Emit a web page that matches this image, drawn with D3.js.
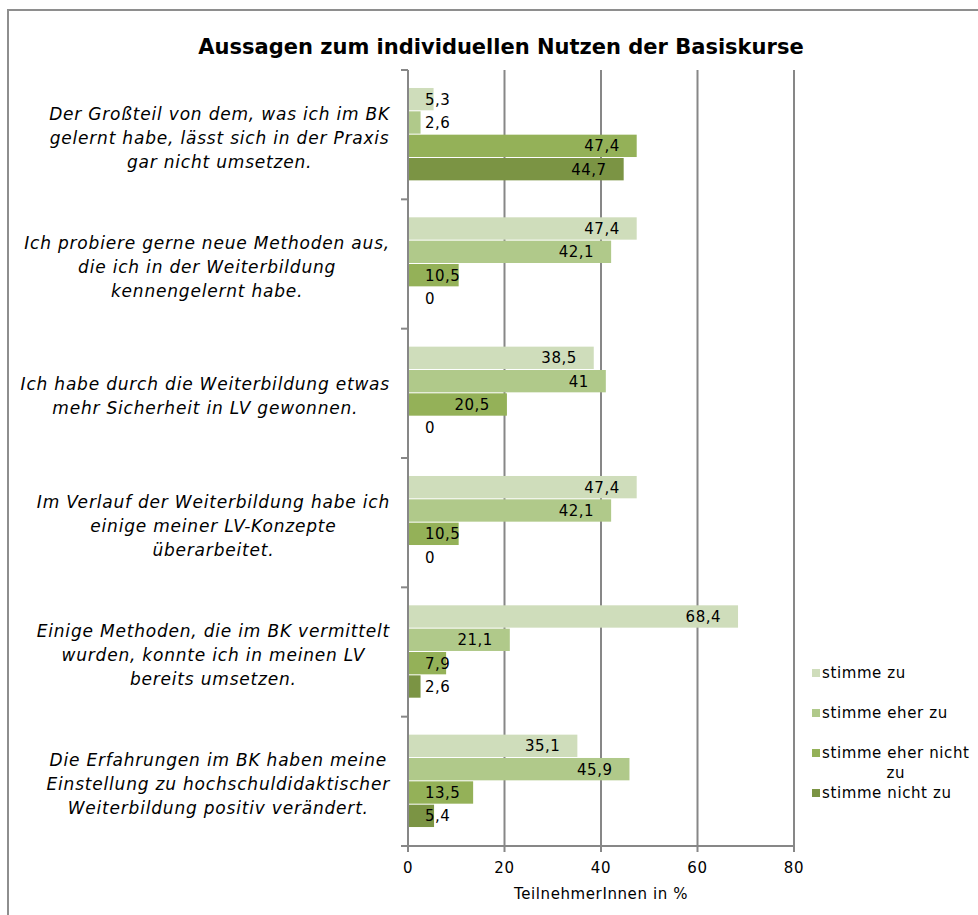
<!DOCTYPE html>
<html>
<head>
<meta charset="utf-8">
<script src="https://cdn.jsdelivr.net/npm/d3@7"></script>
<style>
  html, body { margin: 0; padding: 0; background: #fff; }
  svg { display: block; }
</style>
</head>
<body>
<svg id="chart" width="978" height="915"></svg>
<script>
// ---------- data ----------
const title = "Aussagen zum individuellen Nutzen der Basiskurse";
const categories = [
  ["Der Großteil von dem, was ich im BK", "gelernt habe, lässt sich in der Praxis", "gar nicht umsetzen."],
  ["Ich probiere gerne neue Methoden aus,", "die ich in der Weiterbildung", "kennengelernt habe."],
  ["Ich habe durch die Weiterbildung etwas", "mehr Sicherheit in LV gewonnen."],
  ["Im Verlauf der Weiterbildung habe ich", "einige meiner LV-Konzepte", "überarbeitet."],
  ["Einige Methoden, die im BK vermittelt", "wurden, konnte ich in meinen LV", "bereits umsetzen."],
  ["Die Erfahrungen im BK haben meine", "Einstellung zu hochschuldidaktischer", "Weiterbildung positiv verändert."]
];
const seriesNames = ["stimme zu", "stimme eher zu", "stimme eher nicht zu", "stimme nicht zu"];
const legendLines = [["stimme zu"], ["stimme eher zu"], ["stimme eher nicht", "zu"], ["stimme nicht zu"]];
const stimmeZu          = [5.3, 47.4, 38.5, 47.4, 68.4, 35.1];
const stimmeEherZu      = [2.6, 42.1, 41, 42.1, 21.1, 45.9];
const stimmeEherNichtZu = [47.4, 10.5, 20.5, 10.5, 7.9, 13.5];
const stimmeNichtZu     = [44.7, 0, 0, 0, 2.6, 5.4];
const seriesValues = [stimmeZu, stimmeEherZu, stimmeEherNichtZu, stimmeNichtZu];
const xTicks = [0, 20, 40, 60, 80];
const xTitle = "TeilnehmerInnen in %";
const colors = ["#cfddbb", "#b0c98a", "#94b158", "#7b9444"];

// ---------- layout ----------
const svg = d3.select("#chart");
const plotLeft = 408, plotRight = 794, plotTop = 70, plotBottom = 846;
const gridColor = "#878787";
const font = "'DejaVu Sans', Verdana, sans-serif";
const ls = "0.6px";

// outer frame
svg.append("rect").attr("x", 8).attr("y", 10).attr("width", 1000).attr("height", 1000)
  .attr("fill", "#fff").attr("stroke", "#8e8e8e").attr("stroke-width", 2);

const x = d3.scaleLinear().domain([0, 80]).range([plotLeft, plotRight]);
const y = d3.scaleBand().domain(d3.range(categories.length)).range([plotTop, plotBottom])
  .paddingInner(0.278).paddingOuter(0.139);
const ySub = d3.scaleBand().domain(d3.range(seriesNames.length)).range([0, y.bandwidth()]);

// title
svg.append("text").attr("x", 501).attr("y", 54).attr("text-anchor", "middle")
  .attr("font-family", font).attr("font-weight", "bold").attr("font-size", 21)
  .attr("fill", "#000").text(title);

// gridlines
svg.append("g").selectAll("line").data(xTicks.filter(d => d > 0)).join("line")
  .attr("x1", d => x(d)).attr("x2", d => x(d)).attr("y1", plotTop).attr("y2", plotBottom)
  .attr("stroke", gridColor).attr("stroke-width", 2);

// bars
const groups = svg.append("g").selectAll("g").data(categories).join("g")
  .attr("transform", (d, i) => `translate(0,${y(i)})`);

groups.each(function(cat, ci) {
  const g = d3.select(this);
  seriesValues.forEach((vals, si) => {
    const v = vals[ci];
    if (v > 0) {
      g.append("rect").attr("x", x(0)).attr("y", ySub(si))
        .attr("width", x(v) - x(0)).attr("height", ySub.bandwidth() - 1)
        .attr("fill", colors[si]);
    }
  });
});

// value labels
groups.each(function(cat, ci) {
  const g = d3.select(this);
  seriesValues.forEach((vals, si) => {
    const v = vals[ci];
    const label = String(v).replace(".", ",");
    const t = g.append("text")
      .attr("y", ySub(si) + ySub.bandwidth() / 2 + 5)
      .attr("font-family", font).attr("font-size", 15).attr("letter-spacing", "0.5px")
      .attr("fill", "#000").attr("text-anchor", "start").text(label);
    const w = t.node().getComputedTextLength();
    let xs = x(v) - 17 - w;
    if (xs < plotLeft + 17) xs = plotLeft + 17;
    t.attr("x", xs);
  });
});

// axes lines
svg.append("line").attr("x1", plotLeft).attr("x2", plotLeft).attr("y1", plotTop).attr("y2", plotBottom)
  .attr("stroke", gridColor).attr("stroke-width", 2);
svg.append("line").attr("x1", plotLeft - 7).attr("x2", plotRight).attr("y1", plotBottom).attr("y2", plotBottom)
  .attr("stroke", gridColor).attr("stroke-width", 2);

// y tick marks at category boundaries
const bounds = d3.range(categories.length + 1).map(i => plotTop + i * y.step());
svg.append("g").selectAll("line").data(bounds).join("line")
  .attr("x1", plotLeft - 7).attr("x2", plotLeft).attr("y1", d => d).attr("y2", d => d)
  .attr("stroke", gridColor).attr("stroke-width", 2);

// x axis ticks + labels
const xAxis = svg.append("g");
xAxis.selectAll("line").data(xTicks).join("line")
  .attr("x1", d => x(d)).attr("x2", d => x(d)).attr("y1", plotBottom).attr("y2", plotBottom + 6)
  .attr("stroke", gridColor).attr("stroke-width", 2);
xAxis.selectAll("text").data(xTicks).join("text")
  .attr("x", d => x(d)).attr("y", 873).attr("text-anchor", "middle")
  .attr("font-family", font).attr("font-size", 15).attr("letter-spacing", ls).attr("fill", "#000")
  .text(d => d);
svg.append("text").attr("x", 601).attr("y", 899).attr("text-anchor", "middle")
  .attr("font-family", font).attr("font-size", 15).attr("letter-spacing", ls)
  .attr("fill", "#000").text(xTitle);

// category labels (right-aligned block, lines centered within)
const labelRight = 390, lineH = 24;
categories.forEach((lines, ci) => {
  const cy = y(ci) + y.bandwidth() / 2 + 3;
  const g = svg.append("g");
  const texts = lines.map((ln, li) => g.append("text")
    .attr("y", cy + (li - (lines.length - 1) / 2) * lineH + 6)
    .attr("font-family", font).attr("font-style", "italic").attr("font-size", 17)
    .attr("letter-spacing", "0.8px")
    .attr("fill", "#000").attr("text-anchor", "middle").text(ln));
  const maxW = d3.max(texts, t => t.node().getComputedTextLength());
  texts.forEach(t => t.attr("x", labelRight - maxW / 2));
});

// legend
const legend = svg.append("g");
legendLines.forEach((lines, i) => {
  const ly = 673 + i * 40;
  legend.append("rect").attr("x", 812).attr("y", ly - 4).attr("width", 8).attr("height", 8)
    .attr("fill", colors[i]);
  const t = legend.append("text").attr("x", 822).attr("y", ly + 5)
    .attr("font-family", font).attr("font-size", 15).attr("letter-spacing", ls)
    .attr("fill", "#000").text(lines[0]);
  if (lines.length > 1) {
    const w = t.node().getComputedTextLength();
    legend.append("text").attr("x", 822 + w / 2).attr("y", ly + 25).attr("text-anchor", "middle")
      .attr("font-family", font).attr("font-size", 15).attr("letter-spacing", ls)
      .attr("fill", "#000").text(lines[1]);
  }
});
</script>
</body>
</html>
